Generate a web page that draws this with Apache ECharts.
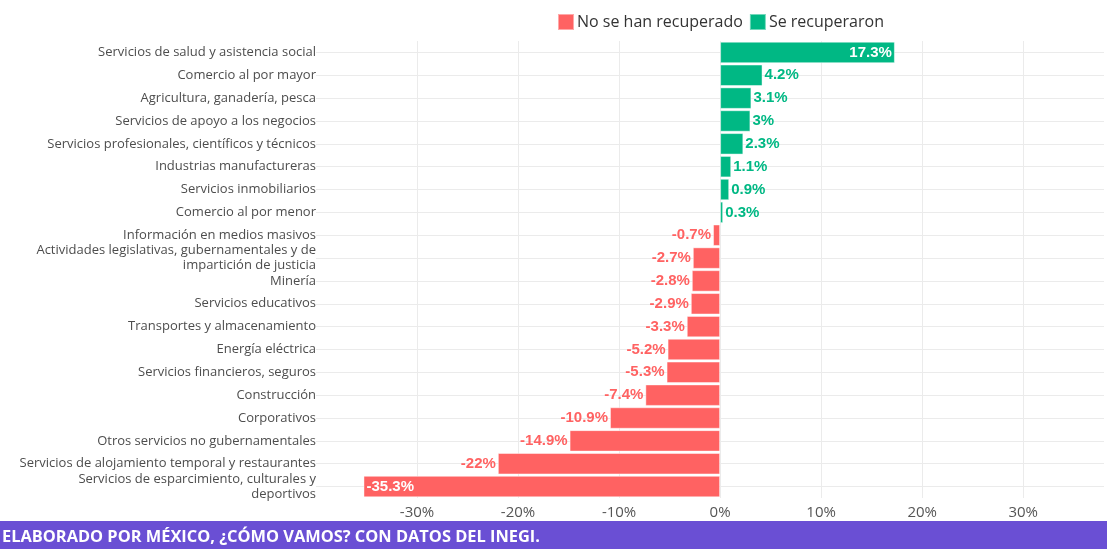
<!DOCTYPE html>
<html lang="es">
<head>
<meta charset="utf-8">
<title>Sectores recuperados</title>
<script src="https://cdn.jsdelivr.net/npm/echarts@6/dist/echarts.min.js"></script>
<style>
  html, body { margin: 0; padding: 0; background: #fff; }
  #main { width: 1107px; height: 549px; }
</style>
</head>
<body>
<div id="main"></div>
<script>
// sectores, de arriba a abajo
var sectores = [
  'Servicios de salud y asistencia social',
  'Comercio al por mayor',
  'Agricultura, ganadería, pesca',
  'Servicios de apoyo a los negocios',
  'Servicios profesionales, científicos y técnicos',
  'Industrias manufactureras',
  'Servicios inmobiliarios',
  'Comercio al por menor',
  'Información en medios masivos',
  'Actividades legislativas, gubernamentales y de\nimpartición de justicia',
  'Minería',
  'Servicios educativos',
  'Transportes y almacenamiento',
  'Energía eléctrica',
  'Servicios financieros, seguros',
  'Construcción',
  'Corporativos',
  'Otros servicios no gubernamentales',
  'Servicios de alojamiento temporal y restaurantes',
  'Servicios de esparcimiento, culturales y\ndeportivos'
];
var variacion = [17.3, 4.2, 3.1, 3, 2.3, 1.1, 0.9, 0.3, -0.7, -2.7, -2.8, -2.9, -3.3, -5.2, -5.3, -7.4, -10.9, -14.9, -22, -35.3];
var ticksX = [-30, -20, -10, 0, 10, 20, 30];

var ROJO = '#ff6262';
var VERDE = '#00b884';
var fuente = '"Open Sans", sans-serif';

var maxPos = Math.max.apply(null, variacion);
var minNeg = Math.min.apply(null, variacion);

// la barra más larga de cada signo lleva la etiqueta dentro, en blanco
function etiqueta(v) {
  var dentro = v === maxPos || v === minNeg;
  return {
    value: v,
    label: {
      show: true,
      position: dentro ? (v > 0 ? 'insideRight' : 'insideLeft') : (v > 0 ? 'right' : 'left'),
      distance: dentro ? 3 : 2,
      color: dentro ? '#fff' : (v > 0 ? VERDE : ROJO),
      fontFamily: '"Liberation Sans", Arial, sans-serif',
      fontWeight: 'bold',
      fontSize: 15,
      formatter: v + '%'
    }
  };
}
var positivos = variacion.map(function (v) { return v >= 0 ? etiqueta(v) : '-'; });
var negativos = variacion.map(function (v) { return v < 0 ? etiqueta(v) : '-'; });

var chart = echarts.init(document.getElementById('main'));
chart.setOption({
  animation: false,
  textStyle: { fontFamily: fuente },
  legend: {
    left: 552, top: 8,
    itemWidth: 16, itemHeight: 16, itemGap: 6,
    icon: 'rect',
    textStyle: { fontSize: 16, color: '#333', fontFamily: fuente, padding: [0, 0, 0, -2] },
    data: ['No se han recuperado', 'Se recuperaron']
  },
  grid: { left: 316, right: 3, top: 41, bottom: 51, containLabel: false },
  xAxis: {
    type: 'value', min: -40, max: 38, interval: 10,
    axisLine: { show: false }, axisTick: { show: false },
    axisLabel: {
      fontSize: 15, color: '#555', margin: 7,
      showMinLabel: false, showMaxLabel: false,
      formatter: function (v) { return ticksX.indexOf(v) >= 0 ? v + '%' : ''; }
    },
    splitLine: { show: true, showMinLine: false, showMaxLine: false, lineStyle: { color: '#ebebeb', width: 1 } }
  },
  yAxis: {
    type: 'category', inverse: true, data: sectores,
    axisLine: { show: false }, axisTick: { show: false },
    axisLabel: { fontSize: 13, color: '#4d4d4d', margin: 0, lineHeight: 15, align: 'right' },
    splitLine: { show: false }
  },
  series: [
    {
      name: 'No se han recuperado', type: 'bar', stack: 'v',
      data: negativos, barCategoryGap: '6%',
      itemStyle: { color: ROJO, borderColor: 'rgba(255,255,255,0.45)', borderWidth: 1 },
      markLine: {
        silent: true, symbol: 'none', label: { show: false },
        lineStyle: { color: '#ebebeb', type: 'solid', width: 1 },
        data: sectores.map(function (s) { return { yAxis: s }; }),
        z: 0
      },
      z: 3
    },
    {
      name: 'Se recuperaron', type: 'bar', stack: 'v',
      data: positivos, barCategoryGap: '6%',
      itemStyle: { color: VERDE, borderColor: 'rgba(255,255,255,0.45)', borderWidth: 1 },
      z: 3
    }
  ],
  graphic: [
    { type: 'rect', left: 0, top: 521, shape: { width: 1107, height: 28 }, style: { fill: '#6a4fd4' } },
    { type: 'text', left: 2, top: 529, style: { text: 'ELABORADO POR MÉXICO, ¿CÓMO VAMOS? CON DATOS DEL INEGI.', fill: '#fff', font: 'bold 16.4px "Open Sans", sans-serif' } }
  ]
});
</script>
</body>
</html>
